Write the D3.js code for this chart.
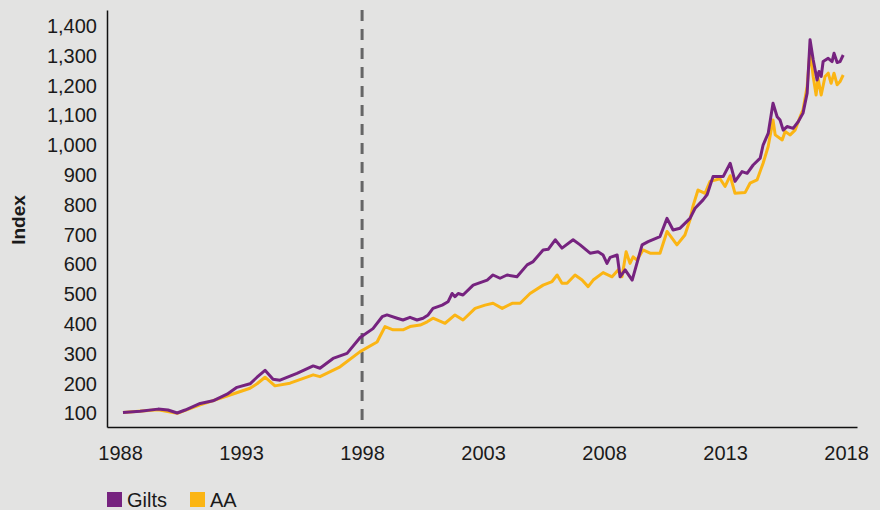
<!DOCTYPE html>
<html>
<head>
<meta charset="utf-8">
<script src="https://cdn.jsdelivr.net/npm/d3@7"></script>
<style>
  body { margin: 0; background: #e3e3e2; }
  svg { display: block; font-family: "Liberation Sans", Arial, sans-serif; }
</style>
</head>
<body>
<svg width="880" height="510"></svg>
<script>
// decimal years + index values
var giltsYears = [1988.12,1988.83,1989.57,1989.98,1990.36,1990.69,1991.31,1991.84,1992.42,1992.83,
  1993.37,1993.66,1993.99,1994.32,1994.61,1995.31,1995.98,1996.26,1996.80,1997.38,1997.92,1998.45,
  1998.83,1999.03,1999.45,1999.69,1999.98,2000.27,2000.52,2000.73,2000.93,2001.31,2001.55,2001.72,
  2001.84,2001.97,2002.17,2002.59,2003.17,2003.41,2003.70,2003.99,2004.40,2004.82,2005.07,2005.48,
  2005.69,2005.98,2006.26,2006.72,2007.01,2007.42,2007.75,2007.96,2008.12,2008.25,2008.54,2008.66,
  2008.87,2009.16,2009.28,2009.57,2009.82,2010.31,2010.60,2010.85,2011.14,2011.55,
  2011.76,2012.09,2012.26,2012.50,2012.92,2013.21,2013.41,2013.70,2013.91,2014.16,2014.45,2014.57,
  2014.78,2014.98,2015.15,2015.27,2015.40,2015.56,2015.81,2016.02,2016.22,2016.39,2016.51,2016.64,
  2016.80,2016.88,2016.97,2017.05,2017.26,2017.42,2017.50,2017.63,2017.75,2017.88];
var giltsValues = [104,108,115,112,102,112,134,143,165,188,
  200,222,245,215,212,235,260,252,285,302,355,385,
  425,431,420,414,423,414,420,431,453,464,475,503,
  492,503,498,531,548,565,554,565,559,599,610,649,
  651,683,655,683,666,638,643,632,604,624,632,559,
  582,548,582,666,677,694,755,716,722,755,
  789,817,835,895,895,940,879,912,906,934,957,1001,
  1040,1141,1096,1085,1051,1063,1057,1079,1108,1175,1354,1287,
  1219,1248,1231,1281,1292,1281,1309,1278,1281,1303];

var aaYears = [1988.12,1989.57,1990.36,1991.31,1992.42,1993.37,1993.66,1993.99,1994.40,1995.02,
  1995.98,1996.26,1997.09,1997.92,1998.62,1998.95,1999.28,1999.69,1999.98,2000.40,2000.69,2000.93,
  2001.43,2001.84,2002.17,2002.67,2003.08,2003.41,2003.79,2004.20,2004.53,2004.94,2005.48,2005.85,
  2006.06,2006.26,2006.47,2006.80,2007.09,2007.34,2007.55,2007.96,2008.33,2008.58,2008.74,2008.91,
  2009.07,2009.20,2009.36,2009.61,2009.90,2010.31,2010.60,2011.01,2011.34,2011.55,2011.67,2011.88,
  2012.17,2012.38,2012.79,2013.00,2013.21,2013.41,2013.83,2014.03,2014.32,2014.57,2014.78,2014.98,
  2015.07,2015.36,2015.48,2015.69,2015.89,2016.10,2016.22,2016.39,2016.51,2016.64,2016.76,2016.84,
  2016.97,2017.13,2017.26,2017.38,2017.50,2017.63,2017.75,2017.88];
var aaValues = [104,113,101,129,159,185,200,222,193,202,
  230,224,257,308,340,392,381,381,392,397,408,420,
  403,431,414,453,464,470,453,470,470,503,531,543,
  565,537,537,565,548,526,548,573,559,582,559,643,
  604,626,615,649,638,638,711,666,699,750,795,850,
  839,879,888,862,898,839,842,873,884,940,996,1085,
  1035,1018,1046,1035,1051,1096,1119,1197,1320,1231,1169,1225,
  1169,1231,1242,1208,1242,1203,1214,1236];

var yTicks = [100,200,300,400,500,600,700,800,900,1000,1100,1200,1300,1400];
var xTicks = [1988,1993,1998,2003,2008,2013,2018];
var markerYear = 1998;

var svg = d3.select("svg");

var x = d3.scaleLinear().domain([1987.46, 2018.45]).range([107, 857]);
var y = d3.scaleLinear().domain([55, 1454]).range([427, 10]);

var line = d3.line()
    .x(d => x(d[0]))
    .y(d => y(d[1]));

// axes
var yAxis = svg.append("g")
    .attr("transform", "translate(107,0)")
    .call(d3.axisLeft(y).tickValues(yTicks).tickSize(0).tickPadding(10).tickFormat(d3.format(",")));
yAxis.select(".domain").attr("stroke", "#111").attr("stroke-width", 1.5);
yAxis.selectAll("text").attr("font-size", 20).attr("fill", "#1a1a1a").attr("font-family", "Liberation Sans, Arial, sans-serif");

var xAxis = svg.append("g")
    .attr("transform", "translate(0,427)")
    .call(d3.axisBottom(x).tickValues(xTicks).tickSize(0).tickPadding(19).tickFormat(d3.format("d")));
xAxis.select(".domain").attr("stroke", "#111").attr("stroke-width", 1.5);
xAxis.selectAll("text").attr("font-size", 20).attr("fill", "#1a1a1a").attr("font-family", "Liberation Sans, Arial, sans-serif");

svg.append("text")
    .attr("transform", "translate(25,220) rotate(-90)")
    .attr("text-anchor", "middle")
    .attr("font-size", 19)
    .attr("font-weight", "bold")
    .attr("fill", "#1a1a1a")
    .text("Index");

// 1998 marker
svg.append("line")
    .attr("x1", x(markerYear)).attr("x2", x(markerYear))
    .attr("y1", 10).attr("y2", 427)
    .attr("stroke", "#666")
    .attr("stroke-width", 3)
    .attr("stroke-dasharray", "11,8");

svg.append("path")
    .datum(d3.zip(aaYears, aaValues))
    .attr("fill", "none")
    .attr("stroke", "#fbb514")
    .attr("stroke-width", 3)
    .attr("stroke-linejoin", "round")
    .attr("d", line);

svg.append("path")
    .datum(d3.zip(giltsYears, giltsValues))
    .attr("fill", "none")
    .attr("stroke", "#76237f")
    .attr("stroke-width", 3)
    .attr("stroke-linejoin", "round")
    .attr("d", line);

// legend
var legend = [["Gilts", "#76237f", 107], ["AA", "#fbb514", 190]];
var lg = svg.append("g").selectAll("g")
    .data(legend)
    .enter()
    .append("g")
    .attr("transform", d => "translate(" + d[2] + ",492)");
lg.append("rect").attr("width", 15).attr("height", 15).attr("fill", d => d[1]);
lg.append("text")
    .attr("x", 20).attr("y", 15)
    .attr("font-size", 20)
    .attr("fill", "#1a1a1a")
    .text(d => d[0]);
</script>
</body>
</html>
